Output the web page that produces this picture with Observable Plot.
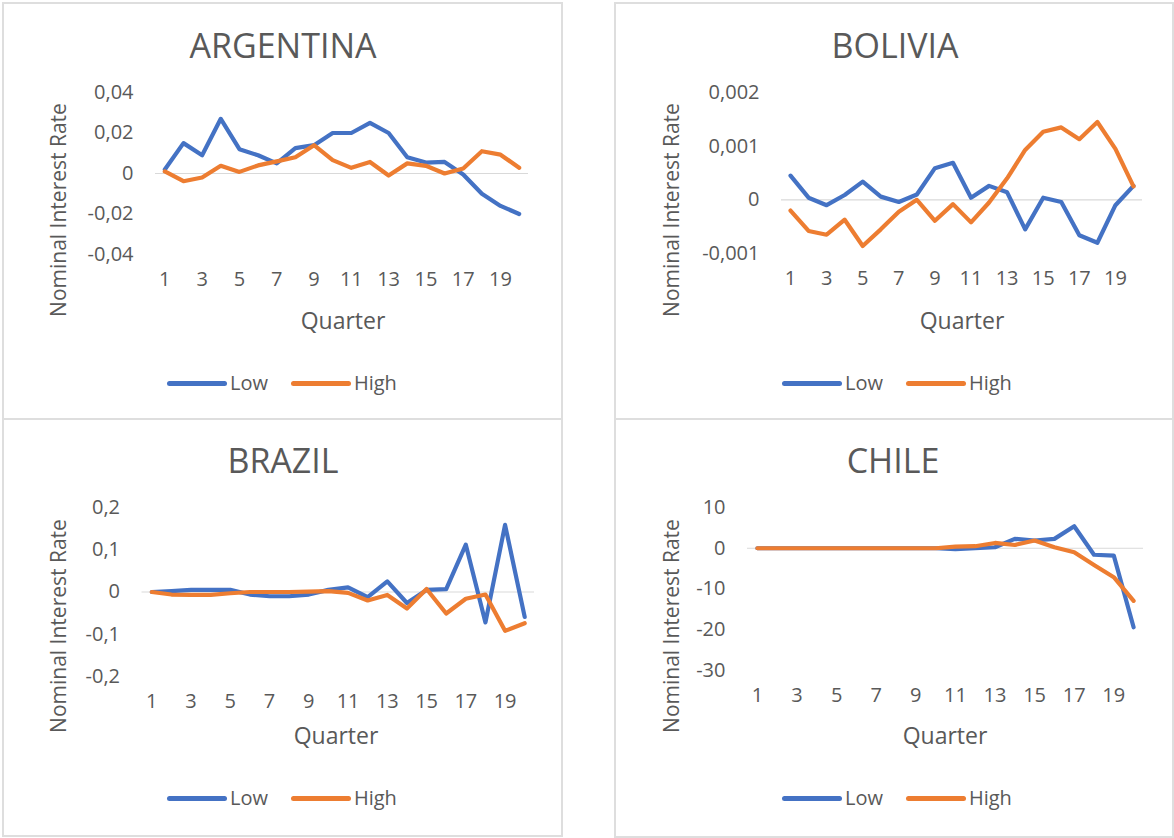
<!DOCTYPE html>
<html>
<head>
<meta charset="utf-8">
<script src="https://cdn.jsdelivr.net/npm/d3@7"></script>
<script src="https://cdn.jsdelivr.net/npm/@observablehq/plot@0.6"></script>
<style>
  html, body { margin: 0; padding: 0; background: #fff; }
  #root { position: relative; width: 1174px; height: 838px; overflow: hidden; font-family: "Open Sans", Lato, sans-serif; color: #595959; }
  .box { position: absolute; box-sizing: border-box; border: 2px solid #dedede; background: #fff; }
  .abs { position: absolute; white-space: nowrap; transform: translate(-50%, -50%); line-height: 1; }
  .title { font-size: 34px; }
  .ylab { font-size: 21px; transform: translate(-50%, -50%) rotate(-90deg); }
  .xlab { font-size: 23px; }
  .leg { position: absolute; display: flex; align-items: center; font-size: 20px; transform: translateY(-50%); line-height: 1; }
  .sw { display: inline-block; width: 60px; height: 5px; border-radius: 2.5px; margin-right: 3px; }
  .plotwrap { position: absolute; }
</style>
</head>
<body>
<div id="root"></div>
<script>
// ---- data ----
const quarters = [1,2,3,4,5,6,7,8,9,10,11,12,13,14,15,16,17,18,19,20];
const xTicks = [1,3,5,7,9,11,13,15,17,19];
const seriesNames = ["Low", "High"];
const countries = ["ARGENTINA", "BOLIVIA", "BRAZIL", "CHILE"];

const argentinaLow  = [0.002,0.015,0.009,0.027,0.012,0.009,0.005,0.0125,0.014,0.020,0.020,0.025,0.020,0.008,0.0054,0.0057,-0.0005,-0.010,-0.016,-0.020];
const argentinaHigh = [0.001,-0.0038,-0.002,0.0038,0.0008,0.004,0.006,0.008,0.014,0.0066,0.0028,0.0057,-0.001,0.005,0.0038,0.0,0.0025,0.011,0.0093,0.0028];

const boliviaLow  = [0.00045,0.00004,-0.0001,0.00009,0.00034,0.00006,-0.00004,0.0001,0.00059,0.00069,0.00004,0.00026,0.00014,-0.00055,0.00004,-0.00004,-0.00066,-0.0008,-0.0001,0.00026];
const boliviaHigh = [-0.0002,-0.00058,-0.00065,-0.00037,-0.00086,-0.00055,-0.00022,0.0,-0.00039,-0.00008,-0.00042,-0.00005,0.0004,0.00093,0.00127,0.00135,0.00113,0.00145,0.00095,0.00025];

const brazilLow  = [0.0,0.002,0.005,0.005,0.005,-0.006,-0.010,-0.010,-0.006,0.005,0.011,-0.012,0.025,-0.026,0.005,0.007,0.112,-0.072,0.159,-0.059];
const brazilHigh = [0.0,-0.006,-0.007,-0.007,-0.003,0.0,0.0,0.0,0.001,0.002,-0.002,-0.020,-0.007,-0.039,0.007,-0.051,-0.016,-0.006,-0.092,-0.074];

const chileLow  = [0,0,0,0,0,0,0,0,0,0,-0.2,0.0,0.25,2.3,1.9,2.3,5.4,-1.6,-1.8,-19.4];
const chileHigh = [0,0,0,0,0,0,0,0,0,0,0.4,0.5,1.3,0.8,1.9,0.25,-1.0,-4.1,-7.1,-12.9];

const yDomains = [[-0.04, 0.04], [-0.001, 0.002], [-0.2, 0.2], [-30, 10]];
const yTickLists = [
  [-0.04,-0.02,0,0.02,0.04],
  [-0.001,0,0.001,0.002],
  [-0.2,-0.1,0,0.1,0.2],
  [-30,-20,-10,0,10]
];
const allSeries = [
  [argentinaLow, argentinaHigh],
  [boliviaLow, boliviaHigh],
  [brazilLow, brazilHigh],
  [chileLow, chileHigh]
];
// ---- layout / style ----
const colors = ["#4472C4", "#ED7D31"];
const panels = [
  {box:[2,2,561,418], svg:[3,3,559,416], m:[89,34,165,152], title:[283,45], ylab:[58,210], xlab:[343,320], leg:[167,383]},
  {box:[614,2,560,418], svg:[615,3,558,416], m:[89,31,166,166], title:[895,45], ylab:[671,210], xlab:[962,320], leg:[782,383]},
  {box:[2,418,561,419], svg:[3,419,559,417], m:[88,28,160,138.5], title:[283,460], ylab:[58,626], xlab:[336,735], leg:[167,798]},
  {box:[614,418,560,420], svg:[615,419,558,418], m:[88,30,167,132], title:[893,460], ylab:[671,626], xlab:[945,735], leg:[782,798]}
];

const root = document.getElementById("root");
const fmt = d => String(d).replace(".", ",");

panels.forEach((p, i) => {
  const box = document.createElement("div");
  box.className = "box";
  Object.assign(box.style, {left: p.box[0]+"px", top: p.box[1]+"px", width: p.box[2]+"px", height: p.box[3]+"px"});
  root.appendChild(box);
});

panels.forEach((p, i) => {
  const rows = [];
  allSeries[i].forEach((vals, s) => {
    quarters.forEach((q, k) => rows.push({q, v: vals[k], s: seriesNames[s]}));
  });
  const [mt, mr, mb, ml] = p.m;
  const chart = Plot.plot({
    width: p.svg[2],
    height: p.svg[3],
    marginTop: mt, marginRight: mr, marginBottom: mb, marginLeft: ml,
    style: {fontFamily: "'Open Sans', Lato, sans-serif", fontSize: "20px", color: "#595959", background: "transparent", overflow: "visible"},
    x: {domain: [0.5, 20.5]},
    y: {domain: yDomains[i]},
    color: {domain: seriesNames, range: colors},
    marks: [
      Plot.ruleY([0], {stroke: "#d9d9d9", strokeWidth: 1.2}),
      Plot.axisX({ticks: xTicks, tickSize: 0, tickPadding: 17, label: null, fill: "#595959"}),
      Plot.axisY({ticks: yTickLists[i], tickSize: 0, tickPadding: 22, tickFormat: fmt, label: null, fill: "#595959"}),
      Plot.lineY(rows, {x: "q", y: "v", z: "s", stroke: "s", strokeWidth: 4.2, strokeLinejoin: "round", strokeLinecap: "round"})
    ]
  });
  const wrap = document.createElement("div");
  wrap.className = "plotwrap";
  Object.assign(wrap.style, {left: p.svg[0]+"px", top: p.svg[1]+"px", width: p.svg[2]+"px", height: p.svg[3]+"px"});
  wrap.appendChild(chart);
  root.appendChild(wrap);

  const t = document.createElement("div");
  t.className = "abs title"; t.textContent = countries[i];
  Object.assign(t.style, {left: p.title[0]+"px", top: p.title[1]+"px"});
  root.appendChild(t);

  const yl = document.createElement("div");
  yl.className = "abs ylab"; yl.textContent = "Nominal Interest Rate";
  Object.assign(yl.style, {left: p.ylab[0]+"px", top: p.ylab[1]+"px"});
  root.appendChild(yl);

  const xl = document.createElement("div");
  xl.className = "abs xlab"; xl.textContent = "Quarter";
  Object.assign(xl.style, {left: p.xlab[0]+"px", top: p.xlab[1]+"px"});
  root.appendChild(xl);

  const lg = document.createElement("div");
  lg.className = "leg";
  Object.assign(lg.style, {left: p.leg[0]+"px", top: p.leg[1]+"px"});
  seriesNames.forEach((n, s) => {
    const item = document.createElement("span");
    item.style.display = "inline-flex"; item.style.alignItems = "center";
    item.style.marginRight = s === 0 ? "23px" : "0";
    const sw = document.createElement("span");
    sw.className = "sw"; sw.style.background = colors[s];
    const tx = document.createElement("span"); tx.textContent = n;
    item.appendChild(sw); item.appendChild(tx);
    lg.appendChild(item);
  });
  root.appendChild(lg);
});
</script>
</body>
</html>
